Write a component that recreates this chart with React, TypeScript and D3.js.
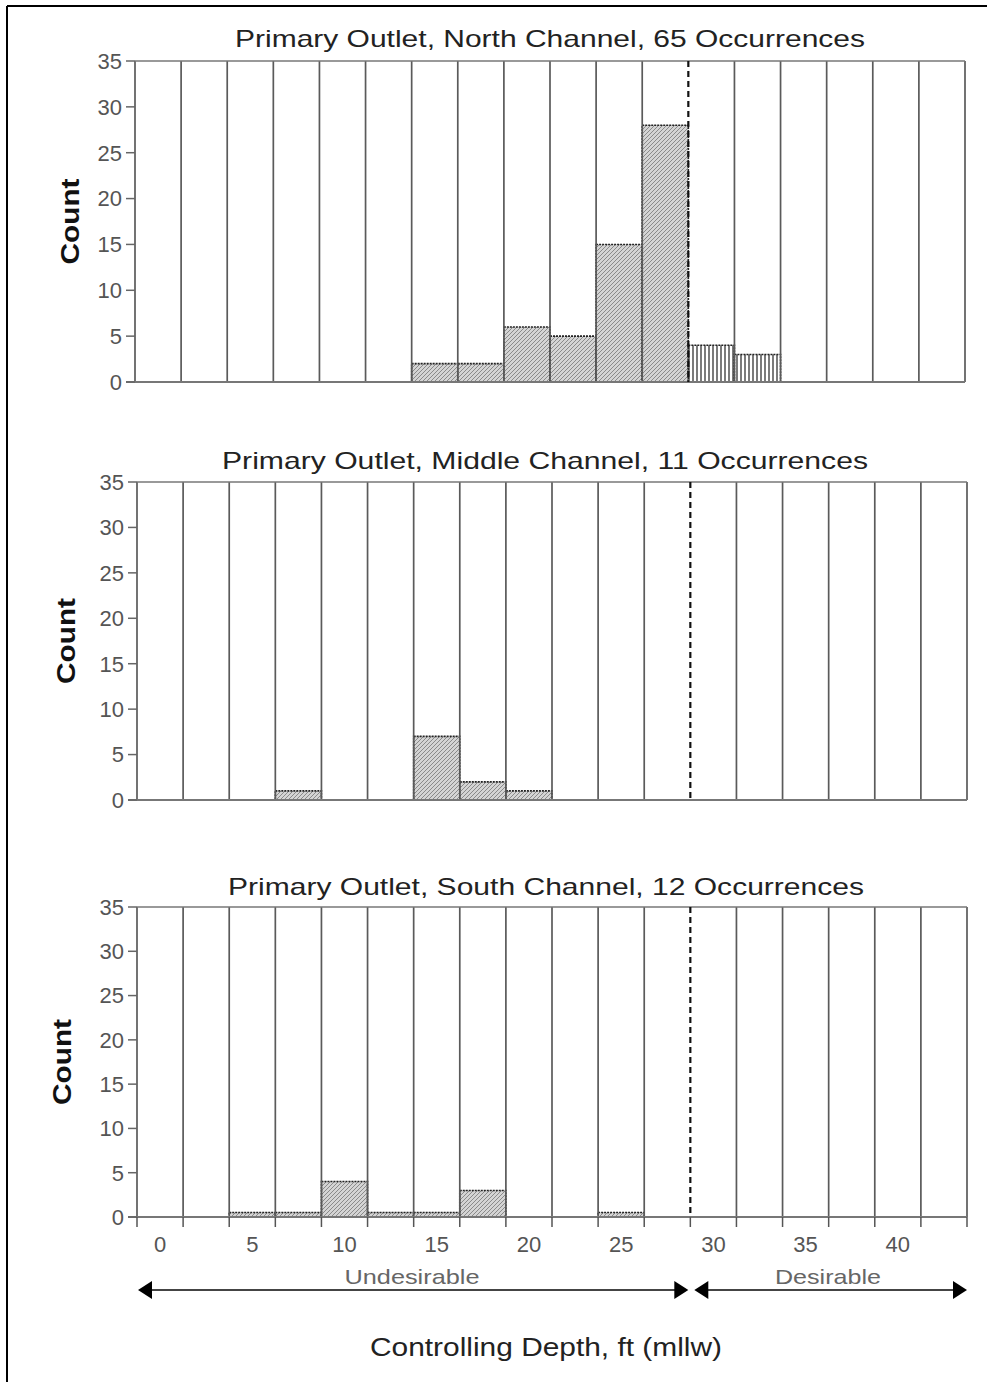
import React from "react";
import * as d3 from "d3";

// Bin centers (ft, mllw) — one bar per bin
const binCenters = [0, 2.5, 5, 7.5, 10, 12.5, 15, 17.5, 20, 22.5, 25, 27.5, 30, 32.5, 35, 37.5, 40, 42.5];
const binWidth = 2.5;
const desirableThreshold = 28.75;

const northCounts = [0, 0, 0, 0, 0, 0, 2, 2, 6, 5, 15, 28, 4, 3, 0, 0, 0, 0];
const middleCounts = [0, 0, 0, 1, 0, 0, 7, 2, 1, 0, 0, 0, 0, 0, 0, 0, 0, 0];
const southCounts = [0, 0, 0.5, 0.5, 4, 0.5, 0.5, 3, 0, 0, 0.5, 0, 0, 0, 0, 0, 0, 0];

const yTicks = [0, 5, 10, 15, 20, 25, 30, 35];
const xTickLabels = [0, 5, 10, 15, 20, 25, 30, 35, 40];

const titles = [
  "Primary Outlet, North Channel, 65 Occurrences",
  "Primary Outlet, Middle Channel, 11 Occurrences",
  "Primary Outlet, South Channel, 12 Occurrences",
];

const FONT = "'Liberation Sans', Arial, sans-serif";

type PanelProps = {
  title: string;
  counts: number[];
  left: number;
  right: number;
  top: number;
  bottom: number;
  titleX: number;
  titleY: number;
  titleLen: number;
  countX: number;
  showXAxis?: boolean;
};

function Panel({ title, counts, left, right, top, bottom, titleX, titleY, titleLen, countX, showXAxis }: PanelProps) {
  const x = d3
    .scaleLinear()
    .domain([binCenters[0] - binWidth / 2, binCenters[binCenters.length - 1] + binWidth / 2])
    .range([left, right]);
  const y = d3.scaleLinear().domain([0, 35]).range([bottom, top]);
  const edges = binCenters.map((c) => c - binWidth / 2).concat([binCenters[binCenters.length - 1] + binWidth / 2]);
  const midY = (top + bottom) / 2;
  return (
    <g>
      <text
        x={titleX}
        y={titleY}
        textAnchor="middle"
        fontFamily={FONT}
        fontSize={24}
        fill="#222"
        textLength={titleLen}
        lengthAdjust="spacingAndGlyphs"
      >
        {title}
      </text>
      {counts.map((v, i) =>
        v > 0 ? (
          <rect
            key={"b" + i}
            x={x(binCenters[i] - binWidth / 2)}
            y={y(v)}
            width={x(binCenters[i] + binWidth / 2) - x(binCenters[i] - binWidth / 2)}
            height={y(0) - y(v)}
            fill={binCenters[i] > desirableThreshold ? "url(#vhatch)" : "url(#diag)"}
            stroke="#222"
            strokeWidth={1.6}
            strokeDasharray="2,1"
          />
        ) : null
      )}
      {edges.map((e, i) =>
        Math.abs(e - desirableThreshold) < 1e-6 ? null : (
          <line key={"g" + i} x1={x(e)} x2={x(e)} y1={top} y2={bottom} stroke="#5a5a5a" strokeWidth={1.7} />
        )
      )}
      <line x1={left} x2={right} y1={top} y2={top} stroke="#777" strokeWidth={1.7} />
      <line x1={left - 9} x2={right} y1={bottom} y2={bottom} stroke="#777" strokeWidth={1.9} />
      <line
        x1={x(desirableThreshold)}
        x2={x(desirableThreshold)}
        y1={top}
        y2={bottom}
        stroke="#111"
        strokeWidth={2.2}
        strokeDasharray="6,4"
      />
      {yTicks.map((t) => (
        <g key={"y" + t}>
          <line x1={left - 9} x2={left} y1={y(t)} y2={y(t)} stroke="#666" strokeWidth={1.5} />
          <text
            x={left - 13}
            y={y(t)}
            dy="0.36em"
            textAnchor="end"
            fontFamily={FONT}
            fontSize={22}
            fill="#555"
          >
            {t}
          </text>
        </g>
      ))}
      <text
        transform={`translate(${countX},${midY}) rotate(-90)`}
        textAnchor="middle"
        dy="0.35em"
        fontFamily={FONT}
        fontSize={26}
        fontWeight="bold"
        fill="#111"
        textLength={86}
        lengthAdjust="spacingAndGlyphs"
      >
        Count
      </text>
      {showXAxis ? (
        <g>
          {edges.map((e, i) => (
            <line key={"xt" + i} x1={x(e)} x2={x(e)} y1={bottom} y2={bottom + 10} stroke="#555" strokeWidth={1.5} />
          ))}
          {xTickLabels.map((t) => (
            <text
              key={"xl" + t}
              x={x(t)}
              y={bottom + 35}
              textAnchor="middle"
              fontFamily={FONT}
              fontSize={22}
              fill="#555"
            >
              {t}
            </text>
          ))}
        </g>
      ) : null}
    </g>
  );
}

export default function App() {
  const arrowY = 1290;
  const xs = d3
    .scaleLinear()
    .domain([binCenters[0] - binWidth / 2, binCenters[binCenters.length - 1] + binWidth / 2])
    .range([137, 967]);
  const thrX = xs(desirableThreshold);
  return (
    <svg width={994} height={1382} style={{ position: "absolute", left: 0, top: 0, background: "#fff" }}>
      <defs>
        <pattern id="diag" patternUnits="userSpaceOnUse" width={4} height={4}>
          <rect width={4} height={4} fill="#d4d4d4" />
          <path d="M-1,1 l2,-2 M0,4 l4,-4 M3,5 l2,-2" stroke="#8a8a8a" strokeWidth={1} />
        </pattern>
        <pattern id="vhatch" patternUnits="userSpaceOnUse" width={4} height={4}>
          <rect width={4} height={4} fill="#fff" />
          <line x1={1} x2={1} y1={0} y2={4} stroke="#333" strokeWidth={1.3} />
        </pattern>
      </defs>
      <rect x={0} y={0} width={994} height={1382} fill="#fff" />
      <line x1={7} x2={987} y1={6} y2={6} stroke="#000" strokeWidth={2} />
      <line x1={7} x2={7} y1={6} y2={1382} stroke="#000" strokeWidth={2} />

      <Panel title={titles[0]} counts={northCounts} left={135} right={965} top={61} bottom={382} titleX={550} titleY={47} titleLen={630} countX={70} />
      <Panel title={titles[1]} counts={middleCounts} left={137} right={967} top={482} bottom={800} titleX={545} titleY={469} titleLen={646} countX={66} />
      <Panel title={titles[2]} counts={southCounts} left={137} right={967} top={907} bottom={1217} titleX={546} titleY={895} titleLen={636} countX={62} showXAxis />

      <line x1={150} x2={thrX - 12} y1={arrowY} y2={arrowY} stroke="#444" strokeWidth={2} />
      <path d={`M138,${arrowY} l14,-9 l0,18 Z`} fill="#000" />
      <path d={`M${thrX - 2},${arrowY} l-14,-9 l0,18 Z`} fill="#000" />
      <line x1={thrX + 12} x2={955} y1={arrowY} y2={arrowY} stroke="#444" strokeWidth={2} />
      <path d={`M${thrX + 4},${arrowY} l14,-9 l0,18 Z`} fill="#000" />
      <path d={`M967,${arrowY} l-14,-9 l0,18 Z`} fill="#000" />
      <text x={412} y={1284} textAnchor="middle" fontFamily={FONT} fontSize={21} fill="#666" textLength={135} lengthAdjust="spacingAndGlyphs">
        Undesirable
      </text>
      <text x={828} y={1284} textAnchor="middle" fontFamily={FONT} fontSize={21} fill="#666" textLength={106} lengthAdjust="spacingAndGlyphs">
        Desirable
      </text>
      <text x={546} y={1356} textAnchor="middle" fontFamily={FONT} fontSize={25} fill="#222" textLength={352} lengthAdjust="spacingAndGlyphs">
        Controlling Depth, ft (mllw)
      </text>
    </svg>
  );
}
